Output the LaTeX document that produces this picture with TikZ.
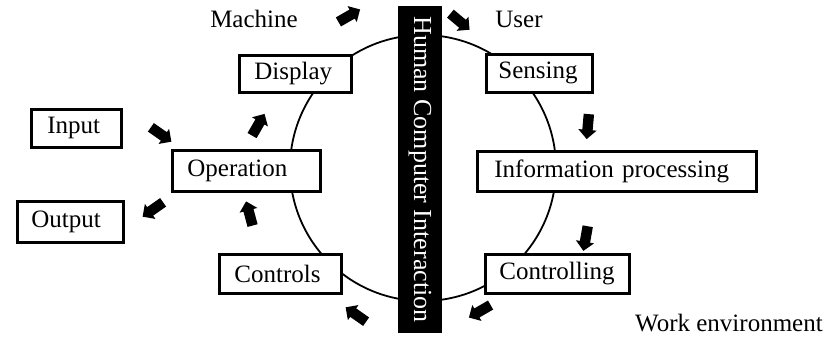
\documentclass[tikz,border=0pt]{standalone}
\usepackage{fontspec}
\setmainfont{Liberation Serif}
\usetikzlibrary{shapes.arrows}
\begin{document}
\begin{tikzpicture}[x=1pt,y=-1pt,
  txt/.style={font=\fontsize{25}{30}\selectfont},
  box/.style={draw, line width=2.8pt, fill=white, anchor=north west, inner ysep=0pt, align=left, txt},
  lbl/.style={inner sep=0pt, txt},
  blk/.style={single arrow, fill=black, draw=none, minimum height=25pt, inner xsep=0pt, inner ysep=5pt,
              single arrow head extend=4pt, single arrow head indent=0pt},
  ring/.style={line width=1.8pt}
]
\useasboundingbox (0,0) rectangle (830,337);
% ring behind everything
\draw[ring] (423,168) circle[radius=133];
% boxes
\node[box, minimum height=37pt, inner xsep=15pt, text width=82pt] (disp) at (238,54) {Display};
\node[box, minimum height=38pt, inner xsep=12pt, text width=82pt] (sens) at (485,53) {Sensing};
\node[box, minimum height=38pt, inner xsep=16pt, text width=58pt] (inp) at (30,108) {Input};
\node[box, minimum height=41pt, inner xsep=15pt, text width=118pt] (oper) at (171,149) {Operation};
\node[box, minimum height=40pt, inner xsep=17pt, text width=245pt] (info) at (476,150) {Information processing};
\node[box, minimum height=41pt, inner xsep=14pt, text width=78pt] (outp) at (16,200) {Output};
\node[box, minimum height=39pt, inner xsep=15pt, text width=92pt] (ctrls) at (218,253) {Controls};
\node[box, minimum height=39pt, inner xsep=14pt, text width=116pt] (ctrlg) at (484,253) {Controlling};
% central bar
\node[fill=black, text=white, rotate=-90, minimum width=327pt, minimum height=44pt,
      inner sep=0pt, font=\fontsize{26}{30}\selectfont] (hci) at (420,169.5) {Human Computer Interaction};
% labels
\node[lbl] (mach) at (254,19) {Machine};
\node[lbl] (user) at (519,19) {User};
\node[lbl] (work) at (729,323) {Work environment};
% block arrows
\node[blk, rotate=30]  (a1) at (347,17) {};
\node[blk, rotate=-40] (a2) at (458,20) {};
\node[blk, rotate=-35] (a3) at (159,133) {};
\node[blk, rotate=60]  (a4) at (257,127) {};
\node[blk, rotate=215] (a5) at (155,208) {};
\node[blk, rotate=105] (a6) at (250,216) {};
\node[blk, rotate=-95] (a7) at (588,124) {};
\node[blk, rotate=-100] (a8) at (586,236) {};
\node[blk, rotate=145] (a9) at (358,316) {};
\node[blk, rotate=210] (a10) at (482,310) {};
\end{tikzpicture}
\end{document}
